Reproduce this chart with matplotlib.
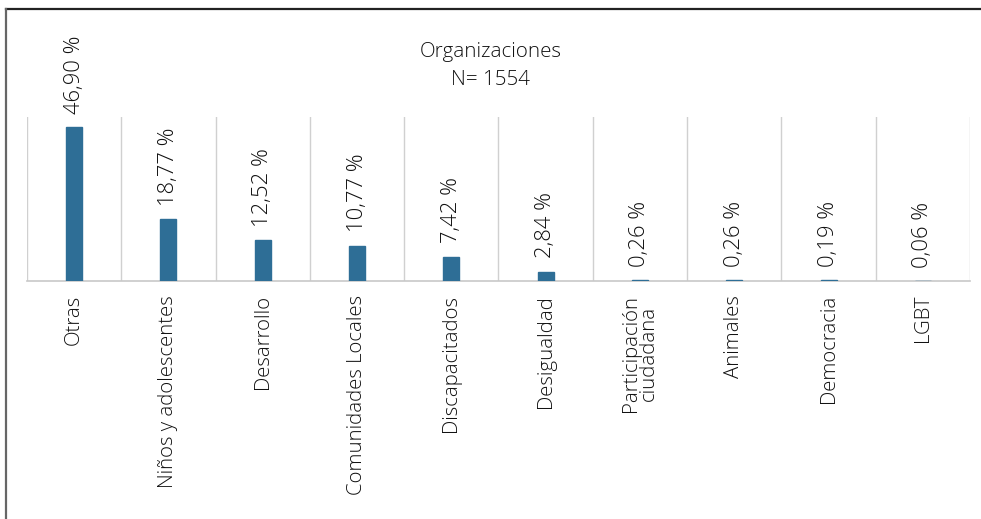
import matplotlib
matplotlib.use("Agg")
import matplotlib.pyplot as plt
from matplotlib.lines import Line2D

plt.rcParams['font.family'] = ['Open Sans', 'DejaVu Sans']

# categories and shares (%) of organizations
categorias = ['Otras', 'Niños y adolescentes', 'Desarrollo', 'Comunidades Locales',
              'Discapacitados', 'Desigualdad', 'Participación\nciudadana', 'Animales',
              'Democracia', 'LGBT']
porcentajes = [46.90, 18.77, 12.52, 10.77, 7.42, 2.84, 0.26, 0.26, 0.19, 0.06]
titulo = 'Organizaciones\nN= 1554'

color_barra = '#2E6E96'
color_grid = '#D0D0D0'
color_texto = '#111111'

fig = plt.figure(figsize=(9.81, 5.19), dpi=100)
ax = fig.add_axes([0.0275, 0.4586, 0.9613, 0.316])

x = list(range(len(categorias)))
ax.bar(x, porcentajes, width=0.17, color=color_barra, edgecolor=color_barra,
       linewidth=1.0, zorder=3)
ax.set_xlim(-0.5, len(categorias) - 0.5)
ax.set_ylim(0, 50)

# vertical separators between categories
for i in range(len(categorias) + 1):
    ax.axvline(i - 0.5, color=color_grid, lw=1, zorder=1)

for s in ['top', 'left', 'right']:
    ax.spines[s].set_visible(False)
ax.spines['bottom'].set_color('#C8C8C8')
ax.spines['bottom'].set_linewidth(1.2)
ax.set_yticks([])
ax.set_xticks(x)
ax.set_xticklabels(categorias, rotation=90, fontsize=14.7, fontweight='light',
                   color=color_texto, va='top', ha='center', linespacing=0.85)
ax.tick_params(axis='x', length=0, pad=10)

# value labels above each bar
for xi, v in zip(x, porcentajes):
    etiqueta = f'{v:.2f}'.replace('.', ',') + ' %'
    ax.annotate(etiqueta, (xi, v), xytext=(0, 9.5), textcoords='offset points',
                rotation=90, ha='center', va='bottom', fontsize=15.8,
                fontweight='light', color=color_texto, annotation_clip=False)

fig.text(0.5, 0.873, titulo, ha='center', va='center', fontsize=14.8,
         fontweight='light', color=color_texto, linespacing=1.55)

# outer frame: dark top edge, grey left edge
fig.add_artist(Line2D([5.5 / 981, 1.0], [1 - 9 / 519, 1 - 9 / 519],
                      transform=fig.transFigure, color='#222222', lw=1.6))
fig.add_artist(Line2D([5.5 / 981, 5.5 / 981], [0.0, 1 - 9 / 519],
                      transform=fig.transFigure, color='#666666', lw=1.6))

fig.savefig('out.png', dpi=100, facecolor='white')
